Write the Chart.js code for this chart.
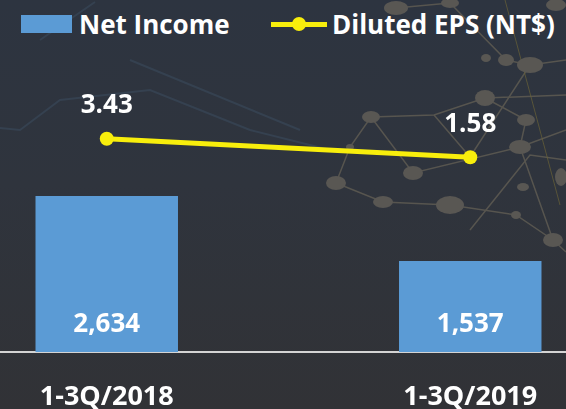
<!DOCTYPE html>
<html>
<head>
<meta charset="utf-8">
<script src="https://cdn.jsdelivr.net/npm/chart.js@4/dist/chart.umd.min.js"></script>
<style>
  html, body { margin: 0; padding: 0; }
  body {
    width: 566px; height: 409px; overflow: hidden; position: relative;
    background: linear-gradient(180deg, #2d3440 0%, #2f343d 45%, #313236 100%);
    font-family: "Open Sans", sans-serif;
  }
  #deco { position: absolute; left: 0; top: 0; }
  #wrap { position: absolute; left: -75px; top: 0; width: 727px; height: 409px; }
  .legend-item {
    position: absolute; top: 11px; height: 26px; display: flex; align-items: center;
    color: #fff; font-weight: bold; font-size: 26px; line-height: 26px; white-space: nowrap;
  }
  .legend-box { width: 51px; height: 18px; margin-right: 7px; }
  .legend-line { position: relative; width: 56px; height: 5px; margin-right: 5px; }
  .legend-line span {
    position: absolute; left: 21px; top: -4.5px; width: 14px; height: 14px; border-radius: 50%;
  }
</style>
</head>
<body>
<!-- faint background artwork -->
<svg id="deco" width="566" height="409">
  <g stroke="#3a4a5c" stroke-width="2" fill="none" opacity="0.6">
    <path d="M0 128 L20 130 L60 100 L150 90 L250 130 L330 150"/>
    <path d="M40 40 L95 2"/>
    <path d="M130 60 L300 130"/>
  </g>
  <g stroke="#57554f" stroke-width="1.5" fill="none">
    <path d="M336 183 L350 147 L371 117 L434 115 L485 98 L566 95"/>
    <path d="M336 183 L383 202 L450 205 L516 215 L553 240 L566 252"/>
    <path d="M371 117 L413 173 L520 147 L566 130"/>
    <path d="M485 98 L526 120 L520 147 L553 240"/>
    <path d="M434 115 L470 157 L530 65"/>
    <path d="M396 8 L450 3 L506 60 L530 65 L566 60"/>
    <path d="M566 160 L530 155 L470 230"/>
  </g>
  <path d="M505 0 L560 205" stroke="#6b6338" stroke-width="1" opacity="0.7"/>
  <g fill="#595753">
    <ellipse cx="396" cy="8" rx="12" ry="7"/>
    <ellipse cx="450" cy="3" rx="9" ry="5"/>
    <ellipse cx="556" cy="5" rx="10" ry="6"/>
    <ellipse cx="486" cy="58" rx="5" ry="4"/>
    <ellipse cx="506" cy="60" rx="8" ry="6"/>
    <ellipse cx="530" cy="65" rx="13" ry="8"/>
    <ellipse cx="485" cy="98" rx="10" ry="8"/>
    <ellipse cx="526" cy="120" rx="9" ry="6"/>
    <ellipse cx="371" cy="117" rx="9" ry="6"/>
    <ellipse cx="350" cy="147" rx="4" ry="3"/>
    <ellipse cx="520" cy="147" rx="11" ry="7"/>
    <ellipse cx="413" cy="173" rx="10" ry="7"/>
    <ellipse cx="336" cy="183" rx="10" ry="7"/>
    <ellipse cx="523" cy="187" rx="6" ry="4"/>
    <ellipse cx="561" cy="177" rx="6" ry="9"/>
    <ellipse cx="383" cy="202" rx="10" ry="6"/>
    <ellipse cx="450" cy="205" rx="14" ry="9"/>
    <ellipse cx="516" cy="215" rx="5" ry="4"/>
    <ellipse cx="553" cy="240" rx="10" ry="7"/>
  </g>
</svg>
<div id="legend"></div>
<div id="wrap"><canvas id="chart" width="727" height="409"></canvas></div>
<script>
const categories = ["1-3Q/2018", "1-3Q/2019"];
const netIncome = [2634, 1537];
const dilutedEps = [3.43, 1.58];

const BAR_BLUE = "#5b9bd5";
const EPS_YELLOW = "#f8ee0c";

// value labels: EPS above the points, net income inside the bars near the base
const valueLabels = {
  id: "valueLabels",
  afterDatasetsDraw(chart) {
    const ctx = chart.ctx;
    ctx.save();
    ctx.font = 'bold 26px "Open Sans"';
    ctx.fillStyle = "#ffffff";
    ctx.textAlign = "center";
    ctx.textBaseline = "alphabetic";
    chart.data.datasets.forEach((ds, i) => {
      const meta = chart.getDatasetMeta(i);
      meta.data.forEach((el, j) => {
        if (ds.type === "line") {
          ctx.fillText(ds.data[j].toFixed(2), el.x, el.y - 25.5);
        } else {
          ctx.fillText(ds.data[j].toLocaleString("en-US"), el.x, el.base - 20);
        }
      });
    });
    ctx.restore();
  }
};

const chart = new Chart(document.getElementById("chart"), {
  data: {
    labels: categories,
    datasets: [
      {
        type: "bar",
        label: "Net Income",
        data: netIncome,
        backgroundColor: BAR_BLUE,
        yAxisID: "y",
        order: 1,
        categoryPercentage: 1,
        barPercentage: 0.392
      },
      {
        type: "line",
        label: "Diluted EPS (NT$)",
        data: dilutedEps,
        borderColor: EPS_YELLOW,
        backgroundColor: EPS_YELLOW,
        borderWidth: 5,
        pointRadius: 7,
        pointBorderWidth: 0,
        pointBackgroundColor: EPS_YELLOW,
        yAxisID: "y1",
        order: 0
      }
    ]
  },
  options: {
    responsive: false,
    animation: false,
    layout: { autoPadding: false, padding: { top: 56, bottom: 0, left: 0, right: 0 } },
    scales: {
      x: {
        grid: { display: false, drawTicks: false },
        border: { color: "#d4d4d4", width: 2 },
        ticks: {
          color: "#ffffff",
          padding: 29,
          font: { family: "Open Sans", size: 27, weight: "bold" }
        },
        afterFit(scale) { scale.height = 57; }
      },
      y: { display: false, min: 0, max: 5000 },
      y1: { display: false, min: -18, max: 11.75 }
    },
    plugins: {
      legend: { display: false },
      tooltip: { enabled: false }
    }
  },
  plugins: [valueLabels]
});

// html legend built from the chart's datasets
const legendEl = document.getElementById("legend");
const legendLeft = [21, 271];
chart.data.datasets.forEach((ds, i) => {
  const item = document.createElement("div");
  item.className = "legend-item";
  item.style.left = legendLeft[i] + "px";
  const mark = document.createElement("div");
  if (ds.type === "line") {
    mark.className = "legend-line";
    mark.style.background = ds.borderColor;
    const dot = document.createElement("span");
    dot.style.background = ds.pointBackgroundColor;
    mark.appendChild(dot);
  } else {
    mark.className = "legend-box";
    mark.style.background = ds.backgroundColor;
  }
  item.appendChild(mark);
  item.appendChild(document.createTextNode(ds.label));
  legendEl.appendChild(item);
});
</script>
</body>
</html>
